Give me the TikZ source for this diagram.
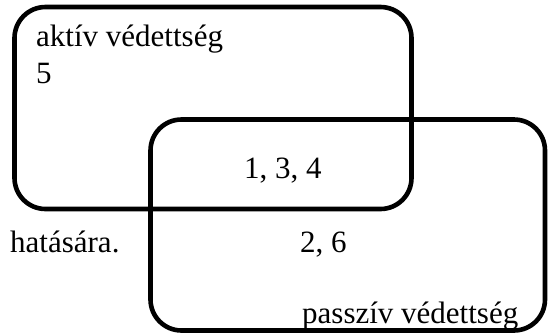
\documentclass[tikz,border=0pt]{standalone}
\usepackage{fontspec}
\setmainfont{Liberation Serif}
\begin{document}
\begin{tikzpicture}[x=1pt,y=-1pt,
  setbox/.style={draw=black,line width=4.6pt,rounded corners=31pt,inner sep=0pt,
    minimum width=#1},
  lbl/.style={inner sep=0pt,anchor=base west,font=\fontsize{31}{37}\selectfont}]
\useasboundingbox (0,0) rectangle (551,333);
\node[setbox=397pt,minimum height=202pt] (aktiv) at (213,108) {};
\node[setbox=394.5pt,minimum height=211pt] (passziv) at (347.75,225) {};
\node[lbl] (taktiv) at (36,46) {aktív védettség};
\node[lbl] (t5) at (36,83) {5};
\node[lbl] (t134) at (244,178) {1, 3, 4};
\node[lbl] (thatas) at (10,252) {hatására.};
\node[lbl] (t26) at (300,252) {2, 6};
\node[lbl] (tpassziv) at (302,323) {passzív védettség};
\end{tikzpicture}
\end{document}
